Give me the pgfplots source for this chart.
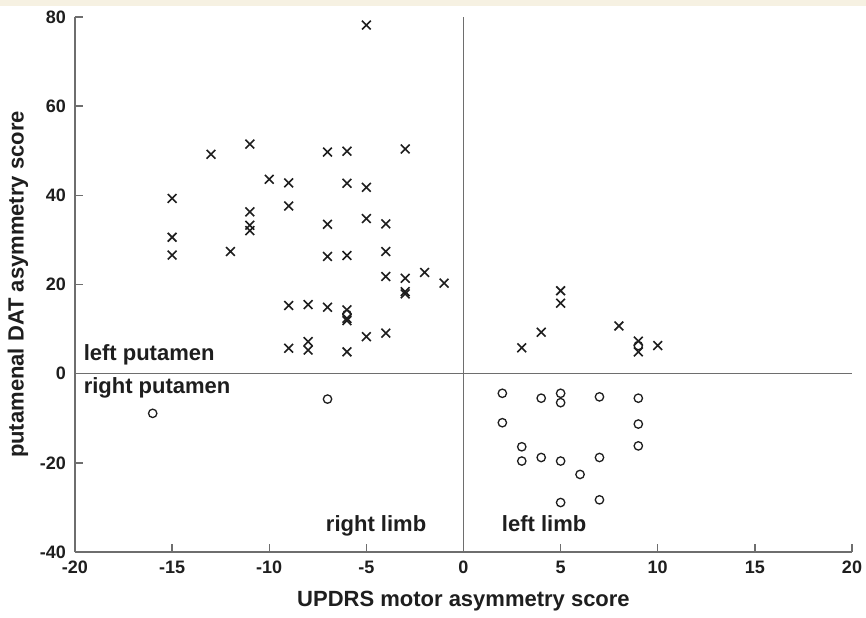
\documentclass[border=0pt]{standalone}
\usepackage{fontspec}
\setmainfont{Liberation Sans}
\usepackage{pgfplots}
\pgfplotsset{compat=1.18}
\definecolor{cream}{RGB}{246,241,226}
\definecolor{axgray}{RGB}{110,110,110}
\definecolor{ink}{RGB}{30,30,30}
\begin{document}
\begin{tikzpicture}
\fill[white] (-37.5pt,-32.5pt) rectangle (395.5pt,276pt);
\fill[cream] (-37.5pt,273pt) rectangle (395.5pt,276pt);
\begin{axis}[
  at={(0,0)}, anchor=south west,
  scale only axis, width=388.5pt, height=267.5pt,
  xmin=-20, xmax=20, ymin=-40, ymax=80,
  axis lines=left,
  axis line style={-, draw=axgray, line width=0.7pt},
  tick align=inside,
  major tick length=4pt,
  major tick style={draw=axgray, line width=0.7pt},
  xtick={-20,-15,-10,-5,0,5,10,15,20},
  xticklabels={-20,-15,-10,-5,0,5,10,15,20},
  ytick={-40,-20,0,20,40,60,80},
  yticklabels={-40,-20,0,20,40,60,80},
  tick label style={font=\bfseries\fontsize{9}{10}\selectfont, text=ink},
  xticklabel style={yshift=-1pt},
  yticklabel style={xshift=-1pt},
  xlabel={UPDRS motor asymmetry score},
  ylabel={putamenal DAT asymmetry score},
  label style={font=\bfseries\fontsize{11}{13}\selectfont, text=ink},
  x label style={at={(axis description cs:0.5,-0.0916)}, anchor=center},
  y label style={at={(axis description cs:-0.0734,0.5)}, anchor=center, rotate=0},
  clip=false,
]
\draw[axgray, line width=0.7pt] (axis cs:0,-40) -- (axis cs:0,80);
\draw[axgray, line width=0.7pt] (axis cs:-20,0) -- (axis cs:20,0);
\addplot[only marks, mark=x, mark size=3.1pt, mark options={draw=ink, line width=0.8pt}] coordinates {
(-5,78.2) (-15,39.3) (-15,30.6) (-15,26.6) (-13,49.2) (-11,51.5) (-11,36.3) (-11,33.3) (-11,32.1)
(-12,27.4) (-10,43.6) (-9,42.8) (-9,37.6) (-7,49.7) (-7,33.5) (-7,26.3) (-6,49.9) (-6,42.7) (-6,26.5)
(-5,41.8) (-5,34.8) (-4,33.6) (-4,27.4) (-4,21.8) (-3,50.4) (-3,21.4) (-3,18.4) (-3,17.9) (-2,22.7)
(-1,20.3) (-9,15.3) (-8,15.5) (-7,14.9) (-6,14.3) (-6,12.4) (-6,11.9) (-9,5.7) (-8,7.2) (-8,5.3)
(-6,4.9) (-5,8.3) (-4,9.1) (5,18.6) (5,15.8) (4,9.3) (3,5.8) (8,10.7) (9,7.3) (9,4.9) (10,6.3)
};
\addplot[only marks, mark=o, mark size=2.1pt, mark options={draw=ink, line width=0.65pt}] coordinates {
(-16,-8.9) (-7,-5.7) (-6,13.3) (9,6.3) (2,-4.4) (2,-11.0) (4,-5.5) (5,-4.4) (5,-6.5) (7,-5.2)
(9,-5.5) (9,-11.3) (9,-16.2) (3,-16.4) (3,-19.6) (4,-18.8) (5,-19.6) (6,-22.6) (7,-18.8)
(5,-28.9) (7,-28.3)
};
\node[anchor=base west, font=\bfseries\fontsize{11}{13}\selectfont, text=ink, inner sep=0pt] at (axis cs:-19.57,2.85) {left putamen};
\node[anchor=base west, font=\bfseries\fontsize{11}{13}\selectfont, text=ink, inner sep=0pt] at (axis cs:-19.57,-4.4) {right putamen};
\node[anchor=base west, font=\bfseries\fontsize{11}{13}\selectfont, text=ink, inner sep=0pt] at (axis cs:-7.10,-35.4) {right limb};
\node[anchor=base west, font=\bfseries\fontsize{11}{13}\selectfont, text=ink, inner sep=0pt] at (axis cs:1.96,-35.4) {left limb};
\end{axis}
\pgfresetboundingbox
\useasboundingbox (-37.5pt,-32.5pt) rectangle (395.5pt,276pt);
\end{tikzpicture}
\end{document}
